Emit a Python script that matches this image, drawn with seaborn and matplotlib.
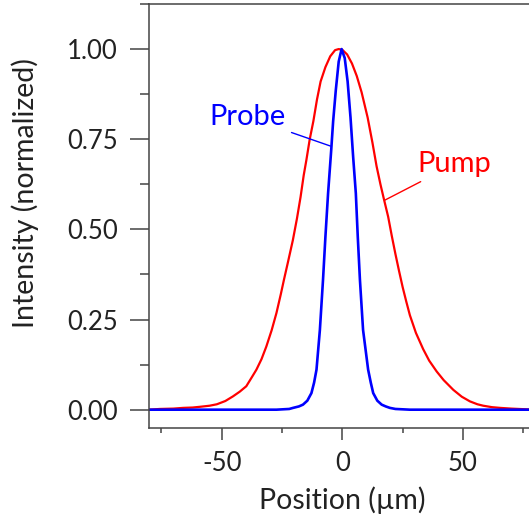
import numpy as np
import pandas as pd
import matplotlib
matplotlib.use("Agg")
import matplotlib.pyplot as plt
import seaborn as sns
from matplotlib.ticker import MultipleLocator

# ---- data ----
pump_x = [-80, -75.7, -70, -66, -62, -59, -55, -52, -48.5, -45.3, -42.5, -39.8, -37.5,
          -35.6, -33.5, -31.5, -29.3, -27.3, -25.5, -24.2, -22.5, -20.5, -18.8, -17.3,
          -16.0, -14.9, -13.5, -12.0, -10.5, -9.0, -7.0, -5.0, -3.0, -1.5, 0.0, 2.0, 4.0,
          6.0, 8.0, 10.5, 12.5, 14.2, 15.8, 17.2, 19.0, 20.5, 22.0, 23.5, 25.0, 26.5,
          28.0, 30.5, 33.5, 36.0, 39.1, 42.0, 46.0, 49.5, 52.9, 56.0, 58.4, 62.0, 65.4,
          70, 76.4, 80]
pump_y = [0.000, 0.002, 0.003, 0.005, 0.006, 0.008, 0.011, 0.015, 0.024, 0.037, 0.050,
          0.065, 0.090, 0.111, 0.140, 0.175, 0.220, 0.268, 0.320, 0.360, 0.410, 0.470,
          0.530, 0.590, 0.650, 0.692, 0.750, 0.800, 0.860, 0.910, 0.950, 0.980, 0.997,
          1.000, 0.998, 0.985, 0.960, 0.925, 0.880, 0.810, 0.740, 0.675, 0.625, 0.585,
          0.535, 0.482, 0.432, 0.385, 0.340, 0.300, 0.262, 0.213, 0.168, 0.136, 0.106,
          0.082, 0.055, 0.036, 0.023, 0.015, 0.011, 0.007, 0.005, 0.003, 0.001, 0.000]

probe_x = [-80, -40, -27.3, -22, -20.4, -18, -16.3, -14.5, -12.8, -11.7, -10.7, -9.3,
           -8.0, -7.0, -5.9, -4.6, -3.8, -2.7, -1.5, -0.3, 1.0, 2.2, 3.4, 4.5, 5.6, 6.4,
           7.3, 8.6, 10.7, 11.8, 12.8, 14.5, 16.3, 18, 19.7, 22, 28, 40, 80]
probe_y = [0.000, 0.000, 0.000, 0.002, 0.005, 0.009, 0.014, 0.025, 0.046, 0.075, 0.111,
           0.221, 0.360, 0.480, 0.600, 0.720, 0.800, 0.886, 0.965, 1.000, 0.975, 0.910,
           0.810, 0.700, 0.600, 0.480, 0.360, 0.221, 0.111, 0.075, 0.046, 0.025, 0.014,
           0.009, 0.005, 0.002, 0.000, 0.000, 0.000]

series_names = ["Pump", "Probe"]
series_colors = {"Pump": "#ff0000", "Probe": "#0000ff"}
x_major = [-50, 0, 50]
y_major = [0.00, 0.25, 0.50, 0.75, 1.00]
y_ticklabels = ["0.00", "0.25", "0.50", "0.75", "1.00"]

df = pd.concat([
    pd.DataFrame({"Position": pump_x, "Intensity": pump_y, "Beam": "Pump"}),
    pd.DataFrame({"Position": probe_x, "Intensity": probe_y, "Beam": "Probe"}),
], ignore_index=True)

sns.set_theme(style="ticks")
plt.rcParams["font.family"] = ["Lato", "DejaVu Sans"]

fig = plt.figure(figsize=(5.29, 5.18), dpi=100)
ax = fig.add_axes([0.2822, 0.1743, 0.7298, 0.818])

for name in series_names:
    sub = df[df["Beam"] == name]
    sns.lineplot(data=sub, x="Position", y="Intensity", ax=ax, color=series_colors[name],
                 lw=1.6 if name == "Pump" else 1.9, estimator=None, sort=False, legend=False)

ax.set_xlim(-80, 80)
ax.set_ylim(-0.05, 1.125)
ax.set_xticks(x_major)
ax.set_xticklabels([str(v) for v in x_major])
ax.xaxis.set_minor_locator(MultipleLocator(25))
ax.set_yticks(y_major)
ax.set_yticklabels(y_ticklabels)
ax.yaxis.set_minor_locator(MultipleLocator(0.125))

spine_col = "#444444"
for s in ["left", "top", "bottom", "right"]:
    ax.spines[s].set_color(spine_col)
    ax.spines[s].set_linewidth(1.1)

ax.tick_params(axis="y", which="major", direction="out", length=13.7, width=1.1,
               color=spine_col, labelsize=18.5, pad=9, labelcolor="#222222")
ax.tick_params(axis="y", which="minor", direction="out", length=6.5, width=1.1, color=spine_col)
ax.tick_params(axis="x", which="major", direction="out", length=8.6, width=1.1,
               color=spine_col, labelsize=18.5, pad=8, labelcolor="#222222")
ax.tick_params(axis="x", which="minor", direction="out", length=3.6, width=1.1, color=spine_col)

ax.set_xlabel("Position (µm)", fontsize=20.5, color="#222222")
ax.set_ylabel("Intensity (normalized)", fontsize=20.5, color="#222222")
ax.xaxis.set_label_coords(0.5005, -0.1706)
ax.xaxis.label.set_va("center")
ax.yaxis.set_label_coords(-0.3207, 0.5527)
ax.yaxis.label.set_va("center")

ax.annotate("Probe", xy=(-4.9, 0.731), xytext=(-23.5, 0.811), color="#0000ff",
            fontsize=21, ha="right", va="center",
            arrowprops=dict(arrowstyle="-", color="#0000ff", lw=1.0, shrinkA=2, shrinkB=0))
ax.annotate("Pump", xy=(17.6, 0.581), xytext=(31.3, 0.681), color="#ff0000",
            fontsize=21, ha="left", va="center",
            arrowprops=dict(arrowstyle="-", color="#ff0000", lw=1.0, shrinkA=2, shrinkB=0))

fig.savefig("out.png", dpi=100)
